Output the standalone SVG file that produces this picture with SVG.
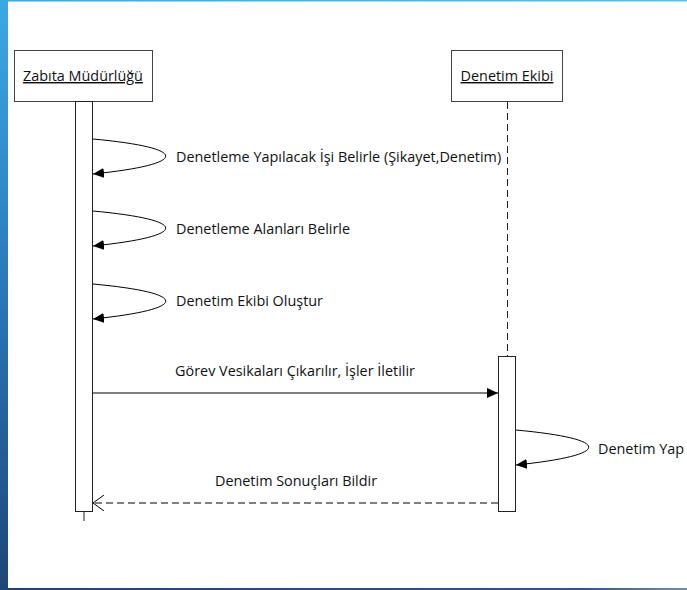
<svg xmlns="http://www.w3.org/2000/svg" width="687" height="590" viewBox="0 0 687 590">
<defs>
<linearGradient id="gl" x1="0" y1="0" x2="0" y2="1">
<stop offset="0" stop-color="#3aa9e8"/>
<stop offset="0.5" stop-color="#2878ba"/>
<stop offset="1" stop-color="#1c4677"/>
</linearGradient>
<linearGradient id="gb" x1="0" y1="0" x2="1" y2="0">
<stop offset="0" stop-color="#1c4677"/>
<stop offset="0.85" stop-color="#2a5a8a"/>
<stop offset="1" stop-color="#6f8faf"/>
</linearGradient>
<linearGradient id="gt" x1="0" y1="0" x2="1" y2="0">
<stop offset="0" stop-color="#3aa9e8"/>
<stop offset="1" stop-color="#5cbcf0"/>
</linearGradient>
<marker id="fa" markerWidth="12" markerHeight="10" refX="11" refY="5" orient="auto" markerUnits="userSpaceOnUse">
<path d="M0,0 L11,5 L0,10 Z" fill="#000"/>
</marker>
<marker id="oa" markerWidth="12" markerHeight="16" refX="11" refY="8" orient="auto" markerUnits="userSpaceOnUse">
<path d="M0,0 L11,8 L0,16" fill="none" stroke="#000" stroke-width="1"/>
</marker>
</defs>
<style>
text{font-family:"Open Sans","Liberation Sans",Arial,sans-serif;font-size:14.4px;fill:#111}
.box{fill:#fff;stroke:#444;stroke-width:1}
.bar{fill:#fff;stroke:#222;stroke-width:1}
.msg{fill:none;stroke:#000;stroke-width:1}
.life{stroke:#222;stroke-width:1;fill:none}
</style>
<rect x="0" y="0" width="687" height="590" fill="#fff"/>
<rect x="0" y="0" width="687" height="1.5" fill="url(#gt)"/>
<rect x="0" y="0" width="8" height="590" fill="url(#gl)"/>
<rect x="0" y="588" width="687" height="2" fill="url(#gb)"/>

<g id="zabita">
<rect class="box" x="14.5" y="50.5" width="138" height="51"/>
<text x="83" y="81" text-anchor="middle" text-decoration="underline">Zabıta Müdürlüğü</text>
<line class="life" x1="84" y1="512" x2="84" y2="521"/>
<rect class="bar" x="75.5" y="101.5" width="17" height="410"/>
</g>

<g id="denetim">
<rect class="box" x="451.5" y="50.5" width="111" height="51"/>
<text x="507" y="81" text-anchor="middle" text-decoration="underline">Denetim Ekibi</text>
<line class="life" x1="507.5" y1="102" x2="507.5" y2="356" stroke-dasharray="7,4"/>
<rect class="bar" x="498.5" y="356.5" width="17" height="155"/>
</g>

<g id="connectors">
<path class="msg" d="M93,139 C190,148 190,164 93,174" marker-end="url(#fa)"/>
<path class="msg" d="M93,211 C190,220 190,236 93,246" marker-end="url(#fa)"/>
<path class="msg" d="M93,284 C190,293 190,309 93,319" marker-end="url(#fa)"/>
<line class="msg" x1="93" y1="393" x2="498" y2="393" marker-end="url(#fa)"/>
<path class="msg" d="M516,430 C613,439 613,455 516,465" marker-end="url(#fa)"/>
<line class="msg" x1="498" y1="503" x2="93" y2="503" stroke="#444" stroke-dasharray="7,4" marker-end="url(#oa)"/>
</g>

<g id="labels">
<text x="176" y="162">Denetleme Yapılacak İşi Belirle (Şikayet,Denetim)</text>
<text x="176" y="234">Denetleme Alanları Belirle</text>
<text x="176" y="306">Denetim Ekibi Oluştur</text>
<text x="295" y="376" text-anchor="middle">Görev Vesikaları Çıkarılır, İşler İletilir</text>
<text x="598" y="454">Denetim Yap</text>
<text x="296" y="486" text-anchor="middle">Denetim Sonuçları Bildir</text>
</g>
</svg>
